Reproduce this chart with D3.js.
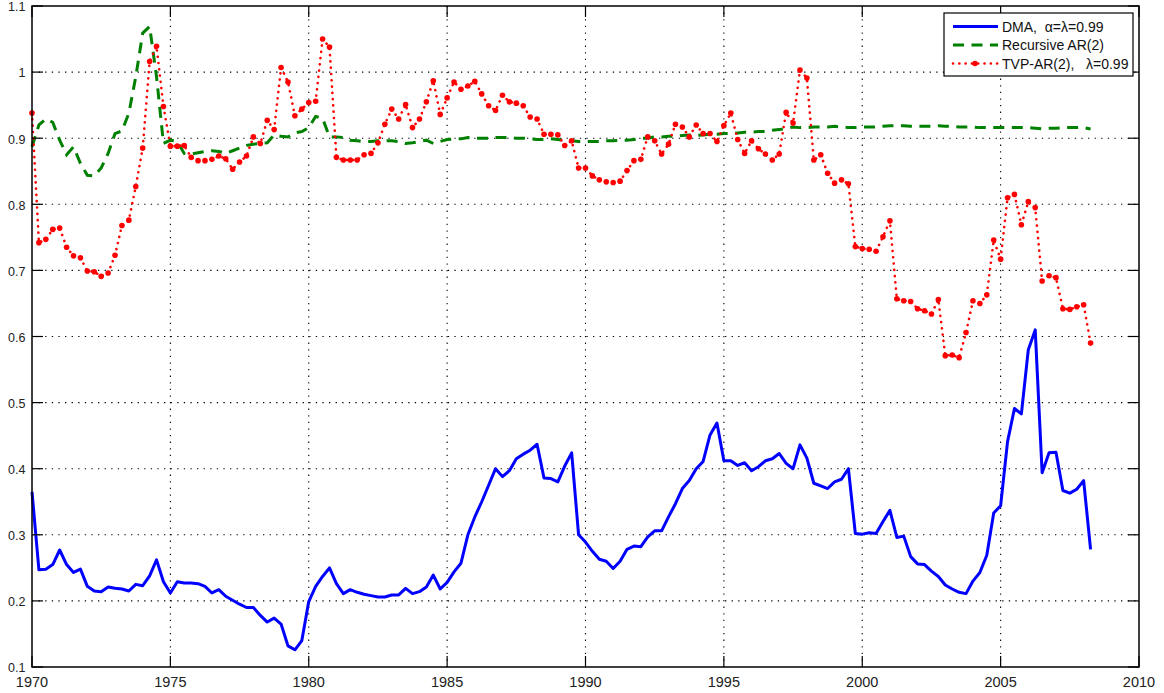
<!DOCTYPE html>
<html>
<head>
<meta charset="utf-8">
<script src="https://cdn.jsdelivr.net/npm/d3@7"></script>
<style>
  body { margin: 0; background: #fff; }
  svg { display: block; font-family: "Liberation Sans", Arial, sans-serif; }
  .xtick-label { font-size: 14.5px; fill: #222; }
  .ytick-label { font-size: 12.5px; fill: #222; }
  .legend-label { font-size: 14px; fill: #111; }
</style>
</head>
<body>
<svg id="chart"></svg>
<script>
// DATA (quarterly, starting 1970 Q1)
const startYear = 1970;
const xTicks = [1970, 1975, 1980, 1985, 1990, 1995, 2000, 2005, 2010];
const yTicks = [0.1, 0.2, 0.3, 0.4, 0.5, 0.6, 0.7, 0.8, 0.9, 1, 1.1];
const yTickLabels = ["0.1", "0.2", "0.3", "0.4", "0.5", "0.6", "0.7", "0.8", "0.9", "1", "1.1"];
const seriesNames = ["DMA,  \u03b1=\u03bb=0.99", "Recursive AR(2)", "TVP-AR(2),   \u03bb=0.99"];

const dma = [
  0.365, 0.247, 0.248, 0.255, 0.277, 0.255, 0.243, 0.248, 0.222, 0.215,
  0.214, 0.221, 0.219, 0.218, 0.215, 0.225, 0.223, 0.238, 0.262, 0.229,
  0.212, 0.229, 0.227, 0.227, 0.226, 0.222, 0.212, 0.217, 0.207, 0.201,
  0.195, 0.190, 0.190, 0.178, 0.168, 0.174, 0.165, 0.132, 0.126, 0.140,
  0.199, 0.222, 0.237, 0.250, 0.226, 0.211, 0.217, 0.213, 0.210, 0.208,
  0.206, 0.206, 0.209, 0.209, 0.219, 0.211, 0.214, 0.221, 0.239, 0.218,
  0.228, 0.244, 0.257, 0.300, 0.327, 0.350, 0.375, 0.400, 0.388, 0.397,
  0.415, 0.422, 0.428, 0.437, 0.386, 0.385, 0.380, 0.404, 0.424, 0.300,
  0.289, 0.275, 0.263, 0.260, 0.249, 0.260, 0.278, 0.283, 0.282, 0.297,
  0.306, 0.306, 0.327, 0.347, 0.370, 0.382, 0.400, 0.411, 0.451, 0.469,
  0.412, 0.412, 0.405, 0.409, 0.397, 0.403, 0.412, 0.415, 0.423, 0.408,
  0.400, 0.436, 0.416, 0.378, 0.374, 0.370, 0.380, 0.384, 0.400, 0.302,
  0.301, 0.303, 0.302, 0.320, 0.337, 0.296, 0.298, 0.267, 0.256, 0.255,
  0.245, 0.237, 0.224, 0.218, 0.213, 0.211, 0.230, 0.243, 0.269, 0.333,
  0.344, 0.441, 0.491, 0.483, 0.580, 0.610, 0.394, 0.424, 0.425, 0.367,
  0.363, 0.369, 0.382, 0.278
];

const recursiveAR = [
  0.887, 0.920, 0.929, 0.924, 0.897, 0.875, 0.887, 0.862, 0.844, 0.843,
  0.855, 0.877, 0.907, 0.911, 0.938, 0.993, 1.059, 1.069, 0.993, 0.892,
  0.897, 0.895, 0.877, 0.876, 0.878, 0.880, 0.881, 0.880, 0.877, 0.881,
  0.885, 0.889, 0.891, 0.892, 0.893, 0.905, 0.903, 0.902, 0.908, 0.910,
  0.916, 0.933, 0.930, 0.902, 0.902, 0.901, 0.897, 0.896, 0.895, 0.895,
  0.896, 0.896, 0.896, 0.895, 0.892, 0.893, 0.895, 0.897, 0.892, 0.895,
  0.898, 0.899, 0.899, 0.901, 0.900, 0.900, 0.900, 0.901, 0.901, 0.901,
  0.900, 0.900, 0.899, 0.898, 0.898, 0.899, 0.898, 0.897, 0.896, 0.895,
  0.895, 0.895, 0.895, 0.896, 0.896, 0.897, 0.897, 0.898, 0.900, 0.900,
  0.902, 0.902, 0.903, 0.903, 0.904, 0.905, 0.904, 0.905, 0.906, 0.906,
  0.907, 0.907, 0.908, 0.909, 0.909, 0.910, 0.910, 0.912, 0.913, 0.915,
  0.917, 0.916, 0.916, 0.917, 0.917, 0.917, 0.918, 0.917, 0.916, 0.916,
  0.917, 0.917, 0.917, 0.918, 0.919, 0.919, 0.919, 0.918, 0.918, 0.918,
  0.918, 0.919, 0.918, 0.918, 0.917, 0.917, 0.917, 0.916, 0.916, 0.916,
  0.916, 0.916, 0.916, 0.916, 0.916, 0.915, 0.914, 0.915, 0.915, 0.916,
  0.916, 0.916, 0.916, 0.914
];

const tvpAR = [
  0.938, 0.742, 0.747, 0.762, 0.764, 0.735, 0.722, 0.719, 0.699, 0.698,
  0.691, 0.696, 0.723, 0.768, 0.776, 0.827, 0.885, 1.016, 1.039, 0.948,
  0.888, 0.888, 0.889, 0.871, 0.866, 0.866, 0.868, 0.873, 0.869, 0.853,
  0.864, 0.873, 0.902, 0.892, 0.927, 0.913, 1.007, 0.985, 0.934, 0.944,
  0.954, 0.956, 1.050, 1.038, 0.871, 0.867, 0.867, 0.867, 0.875, 0.877,
  0.893, 0.921, 0.944, 0.929, 0.951, 0.916, 0.929, 0.955, 0.987, 0.936,
  0.961, 0.985, 0.974, 0.979, 0.986, 0.967, 0.949, 0.942, 0.965, 0.955,
  0.953, 0.949, 0.932, 0.929, 0.906, 0.906, 0.905, 0.889, 0.896, 0.855,
  0.855, 0.843, 0.837, 0.834, 0.833, 0.835, 0.851, 0.866, 0.868, 0.902,
  0.896, 0.876, 0.891, 0.921, 0.917, 0.902, 0.920, 0.907, 0.907, 0.895,
  0.919, 0.938, 0.898, 0.877, 0.896, 0.884, 0.876, 0.867, 0.876, 0.939,
  0.923, 1.003, 0.991, 0.867, 0.875, 0.847, 0.832, 0.837, 0.831, 0.736,
  0.733, 0.732, 0.729, 0.751, 0.775, 0.657, 0.654, 0.653, 0.642, 0.639,
  0.634, 0.656, 0.571, 0.572, 0.568, 0.606, 0.654, 0.650, 0.663, 0.746,
  0.717, 0.810, 0.815, 0.769, 0.804, 0.795, 0.684, 0.692, 0.689, 0.642,
  0.641, 0.645, 0.648, 0.590
];

// GLOBALS
let svg, plot, x, y;
const width = 1164;
const height = 693;
const margin = { top: 6, right: 25, bottom: 26, left: 32 };
const tickLen = 11;
const gridDash = "1.3,5.3";
const tvpDash = "0.1,6.2";
const arDash = "11,7.5";

drawChart();

function toPoints(values) {
  return values.map((v, i) => ({ t: startYear + i * 0.25, v: v }));
}

function drawChart() {
  svg = d3.select("#chart")
    .attr("width", width)
    .attr("height", height);

  x = d3.scaleLinear()
    .domain([1970, 2010])
    .range([margin.left, width - margin.right]);

  y = d3.scaleLinear()
    .domain([0.1, 1.1])
    .range([height - margin.bottom, margin.top]);

  // dotted grid
  const grid = svg.append("g").attr("class", "grid");
  grid.selectAll(".vgrid")
    .data(xTicks.slice(1, -1))
    .enter().append("line")
    .attr("x1", d => x(d)).attr("x2", d => x(d))
    .attr("y1", y(1.1)).attr("y2", y(0.1))
    .attr("stroke", "#000").attr("stroke-width", 1.1)
    .attr("stroke-dasharray", gridDash);
  grid.selectAll(".hgrid")
    .data(yTicks.slice(1, -1))
    .enter().append("line")
    .attr("x1", x(1970)).attr("x2", x(2010))
    .attr("y1", d => y(d)).attr("y2", d => y(d))
    .attr("stroke", "#000").attr("stroke-width", 1.1)
    .attr("stroke-dasharray", gridDash);

  const line = d3.line().x(d => x(d.t)).y(d => y(d.v));

  plot = svg.append("g").attr("class", "series");

  plot.append("path")
    .datum(toPoints(dma))
    .attr("d", line)
    .attr("fill", "none")
    .attr("stroke", "#0000ff")
    .attr("stroke-width", 3)
    .attr("stroke-linejoin", "round");

  plot.append("path")
    .datum(toPoints(recursiveAR))
    .attr("d", line)
    .attr("fill", "none")
    .attr("stroke", "#008000")
    .attr("stroke-width", 3)
    .attr("stroke-dasharray", arDash);

  plot.append("path")
    .datum(toPoints(tvpAR))
    .attr("d", line)
    .attr("fill", "none")
    .attr("stroke", "#ff0000")
    .attr("stroke-width", 2.6)
    .attr("stroke-linecap", "round")
    .attr("stroke-dasharray", tvpDash);

  plot.selectAll(".tvp-dot")
    .data(toPoints(tvpAR))
    .enter().append("circle")
    .attr("class", "tvp-dot")
    .attr("cx", d => x(d.t))
    .attr("cy", d => y(d.v))
    .attr("r", 2.8)
    .attr("fill", "#ff0000");

  drawAxes();
  drawLegend();
}

function drawAxes() {
  const axes = svg.append("g").attr("class", "axes");

  // box
  axes.append("rect")
    .attr("x", x(1970)).attr("y", y(1.1))
    .attr("width", x(2010) - x(1970))
    .attr("height", y(0.1) - y(1.1))
    .attr("fill", "none")
    .attr("stroke", "#000")
    .attr("stroke-width", 1.5);

  // inward ticks on all four sides
  xTicks.forEach(t => {
    axes.append("line")
      .attr("x1", x(t)).attr("x2", x(t))
      .attr("y1", y(0.1)).attr("y2", y(0.1) - tickLen)
      .attr("stroke", "#000").attr("stroke-width", 1.2);
    axes.append("line")
      .attr("x1", x(t)).attr("x2", x(t))
      .attr("y1", y(1.1)).attr("y2", y(1.1) + tickLen)
      .attr("stroke", "#000").attr("stroke-width", 1.2);
  });
  yTicks.forEach(t => {
    axes.append("line")
      .attr("x1", x(1970)).attr("x2", x(1970) + tickLen)
      .attr("y1", y(t)).attr("y2", y(t))
      .attr("stroke", "#000").attr("stroke-width", 1.2);
    axes.append("line")
      .attr("x1", x(2010)).attr("x2", x(2010) - tickLen)
      .attr("y1", y(t)).attr("y2", y(t))
      .attr("stroke", "#000").attr("stroke-width", 1.2);
  });

  axes.selectAll(".xlabel")
    .data(xTicks)
    .enter().append("text")
    .attr("class", "xtick-label")
    .attr("x", d => x(d))
    .attr("y", 687)
    .attr("text-anchor", "middle")
    .text(d => d);

  axes.selectAll(".ylabel")
    .data(yTicks)
    .enter().append("text")
    .attr("class", "ytick-label")
    .attr("x", 25.5)
    .attr("y", d => y(d) + 1)
    .attr("dy", "0.35em")
    .attr("text-anchor", "end")
    .text((d, i) => yTickLabels[i]);
}

function drawLegend() {
  const lg = svg.append("g").attr("class", "legend");
  const bx = 944, by = 13, bw = 189, bh = 63;

  lg.append("rect")
    .attr("x", bx).attr("y", by)
    .attr("width", bw).attr("height", bh)
    .attr("fill", "#fff")
    .attr("stroke", "#000")
    .attr("stroke-width", 1.2);

  const styles = [
    { color: "#0000ff", width: 3, dash: null, cap: "butt" },
    { color: "#008000", width: 3, dash: arDash, cap: "butt" },
    { color: "#ff0000", width: 2.6, dash: tvpDash, cap: "round" }
  ];

  seriesNames.forEach((name, i) => {
    const ry = by + 13.5 + i * 18.5;
    lg.append("line")
      .attr("x1", bx + 9).attr("x2", bx + 54)
      .attr("y1", ry).attr("y2", ry)
      .attr("stroke", styles[i].color)
      .attr("stroke-width", styles[i].width)
      .attr("stroke-linecap", styles[i].cap)
      .attr("stroke-dasharray", styles[i].dash);
    if (i === 2) {
      lg.append("circle")
        .attr("cx", bx + 31).attr("cy", ry).attr("r", 2.8)
        .attr("fill", "#ff0000");
    }
    lg.append("text")
      .attr("class", "legend-label")
      .attr("x", bx + 58)
      .attr("y", ry)
      .attr("dy", "0.36em")
      .attr("xml:space", "preserve")
      .style("white-space", "pre")
      .text(name);
  });
}
</script>
</body>
</html>
